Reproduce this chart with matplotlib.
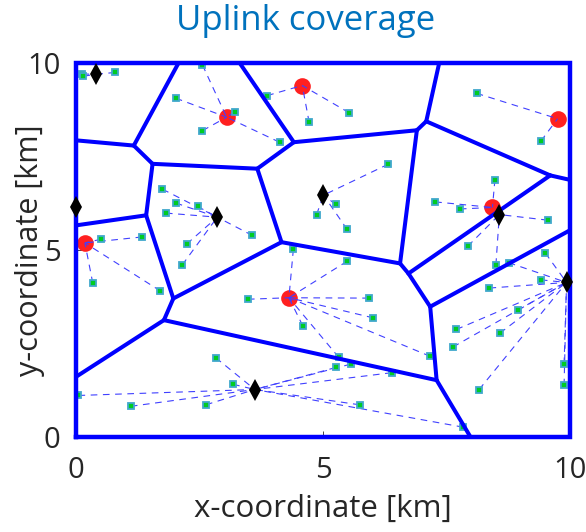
import matplotlib
matplotlib.use("Agg")
import matplotlib.pyplot as plt
import numpy as np

# Macro base stations (red circles)
macro_x = [3.05, 4.58, 9.75, 8.43, 0.18, 4.31]
macro_y = [8.56, 9.41, 8.52, 6.14, 5.19, 3.72]

# Small-cell base stations (black diamonds)
small_x = [0.40, 0.00, 2.86, 5.01, 8.57, 9.93, 3.62]
small_y = [9.71, 6.14, 5.88, 6.47, 5.95, 4.13, 1.26]

# Users and the index of their serving station
# (0-5 = macro stations, 6-12 = small cells)
user_x = [0.13, 0.15, 0.79,
          2.56, 2.02, 3.21, 2.56, 4.12,
          3.87, 4.72, 5.53,
          8.11, 9.41,
          1.75, 2.02, 2.46, 1.82, 3.57, 2.24, 2.15,
          4.87, 6.32, 5.26, 5.49,
          0.51, 1.34, 0.34, 1.71,
          8.48, 7.27, 7.77,
          9.55, 7.93, 8.50,
          5.49, 5.93, 6.02, 7.17, 5.32, 4.40, 3.48, 4.59,
          5.26, 5.56, 6.39, 5.74, 7.84, 2.83, 3.18, 0.05, 1.11, 2.63,
          8.76, 9.50, 9.41, 8.37, 8.95, 7.70, 8.58, 7.63, 8.16, 9.88, 9.88]
user_y = [9.72, 9.66, 9.76,
          9.96, 9.07, 8.70, 8.20, 7.89,
          9.14, 8.42, 8.68,
          9.20, 7.92,
          6.63, 6.26, 6.17, 5.99, 5.39, 5.16, 4.60,
          5.95, 7.30, 6.22, 5.55,
          5.29, 5.35, 4.11, 3.90,
          6.89, 6.29, 6.10,
          5.80, 5.10, 4.60,
          4.70, 3.71, 3.18, 2.15, 2.12, 5.02, 3.68, 2.97,
          1.85, 1.94, 1.71, 0.85, 0.25, 2.11, 1.40, 1.10, 0.81, 0.85,
          4.66, 4.92, 4.20, 3.98, 3.39, 2.87, 2.77, 2.40, 1.26, 1.94, 1.37]
user_bs = [6, 6, 6,
           0, 0, 0, 0, 0,
           1, 1, 1,
           2, 2,
           8, 8, 8, 8, 8, 8, 8,
           9, 9, 9, 9,
           4, 4, 4, 4,
           3, 3, 3,
           10, 10, 10,
           5, 5, 5, 5, 5, 5, 5, 5,
           12, 12, 12, 12, 12, 12, 12, 12, 12, 12,
           11, 11, 11, 11, 11, 11, 11, 11, 11, 11, 11]

# Cell-boundary vertices and edges
vert = {
    "A": (2.07, 10.0), "B": (1.17, 7.80), "C": (0.0, 7.94), "D": (1.55, 7.31),
    "E": (3.67, 7.18), "F": (4.41, 7.89), "G": (3.32, 10.0), "H": (1.42, 5.93),
    "I": (0.0, 5.66), "J": (4.16, 5.21), "K": (7.35, 10.0), "L": (7.09, 8.45),
    "M": (6.90, 8.21), "N": (9.60, 7.00), "O": (10.0, 6.88), "P": (6.56, 4.64),
    "Q": (6.73, 4.37), "R": (7.17, 3.48), "S": (10.0, 5.53), "T": (7.30, 1.51),
    "V": (1.78, 3.12), "W": (1.97, 3.70), "X": (0.0, 1.60), "Y": (7.98, 0.0),
    "c1": (0.0, 0.0), "c2": (10.0, 0.0), "c3": (10.0, 10.0), "c4": (0.0, 10.0),
}
edges = ["AB", "BC", "BD", "DE", "EF", "FG", "FM", "ML", "LK", "LN", "NO",
         "NQ", "DH", "HI", "HW", "EJ", "JW", "JP", "PM", "PQ", "QR", "RS",
         "RT", "TV", "VW", "VX", "TY"]
border = ["c1", "c2", "c3", "c4", "c1"]

stations_x = macro_x + small_x
stations_y = macro_y + small_y

fig = plt.figure(figsize=(5.86, 5.32), dpi=100)
ax = fig.add_axes([76 / 586, 1 - 436.5 / 532, 494 / 586, 373 / 532])
ax.set_xlim(0, 10)
ax.set_ylim(0, 10)

# Macro stations underneath the association lines
ax.plot(macro_x, macro_y, "o", color="#ff2020", markersize=12,
        markeredgewidth=0, zorder=2)

# Association lines user -> serving station
for ux, uy, b in zip(user_x, user_y, user_bs):
    ax.plot([ux, stations_x[b]], [uy, stations_y[b]], color=(0.25, 0.25, 1.0),
            lw=0.8, dashes=(6, 5), zorder=3)

# Users
ax.plot(user_x, user_y, "s", markersize=5, markerfacecolor="#00cc22",
        markeredgecolor="#40a8cc", markeredgewidth=1.3, zorder=4)

# Cell boundaries
for e in edges:
    p, q = vert[e[0]], vert[e[1]]
    ax.plot([p[0], q[0]], [p[1], q[1]], color="#0000ff", lw=2.9,
            solid_capstyle="round", zorder=5, clip_on=False)
bx = [vert[k][0] for k in border]
by = [vert[k][1] for k in border]
ax.plot(bx, by, color="#0000ff", lw=3.2, zorder=5, clip_on=False,
        solid_joinstyle="miter")

# Small cells on top
ax.plot(small_x, small_y, "d", color="black", markersize=11,
        markeredgewidth=0, zorder=6, clip_on=False)

for s in ax.spines.values():
    s.set_visible(False)
ax.set_xticks([0, 5, 10])
ax.set_yticks([0, 5, 10])
ax.tick_params(direction="in", length=4, width=0.6, color="#262626",
               labelsize=21, labelcolor="#262626")
ax.tick_params(axis="x", pad=14)
ax.tick_params(axis="y", pad=11)
for lab in ax.get_xticklabels() + ax.get_yticklabels():
    lab.set_fontfamily("Open Sans")

ax.set_xlabel("x-coordinate [km]", fontsize=22.5, color="#262626",
              family="Open Sans", va="center")
ax.xaxis.set_label_coords(0.5, (436.5 - 509) / 373)
ax.set_ylabel("y-coordinate [km]", fontsize=22, color="#262626",
              family="Open Sans", va="center")
ax.yaxis.set_label_coords((30 - 76) / 494, 0.5)
fig.text(306 / 586, 1 - 21 / 532, "Uplink coverage", ha="center", va="center",
         fontsize=25, color="#0072bd", family="Open Sans")

fig.savefig("out.png", dpi=100)
